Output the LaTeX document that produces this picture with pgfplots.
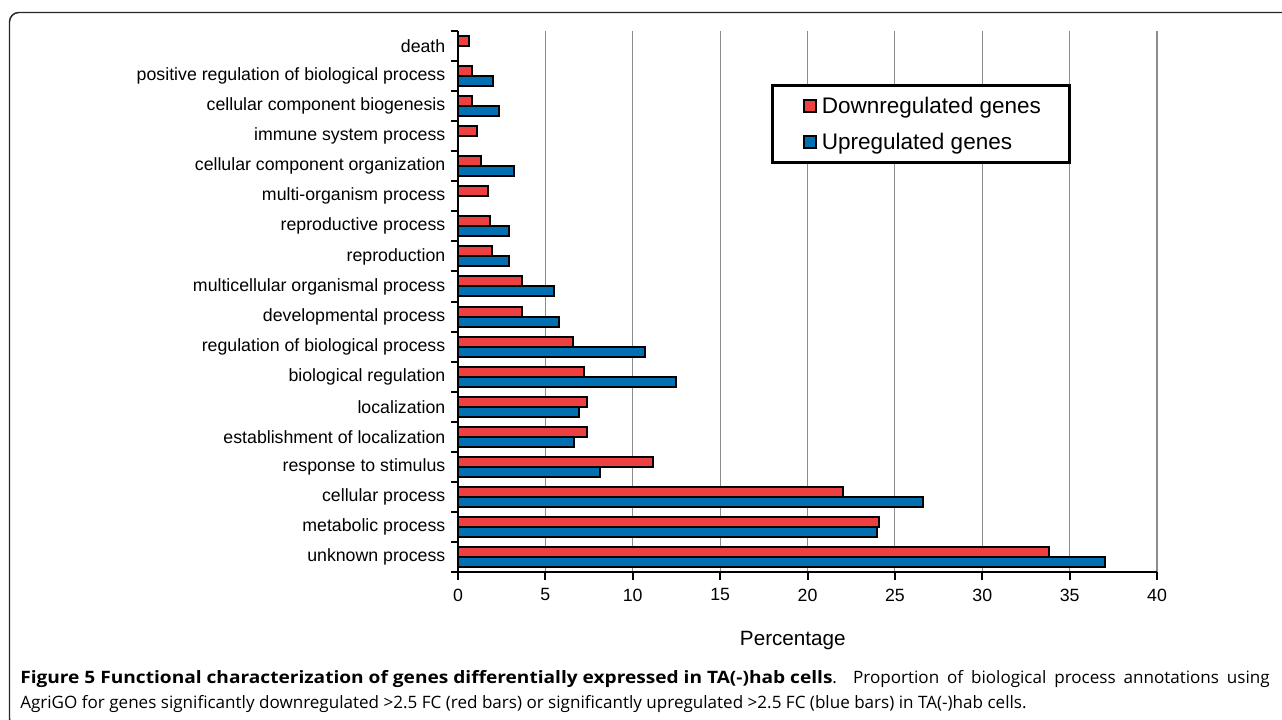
\documentclass[border=0pt]{standalone}
\usepackage{fontspec}
\setmainfont{Liberation Sans}
\newfontfamily\capfont[BoldFeatures={FakeStretch=1.12}]{Open Sans}
\usepackage{pgfplots}
\pgfplotsset{compat=1.18}
\definecolor{redbar}{HTML}{EE4040}
\definecolor{bluebar}{HTML}{0070B2}
\begin{document}
\begin{tikzpicture}
\useasboundingbox (0,0) rectangle (961.5pt,-540pt);
\draw[line width=1.1pt, black!85, rounded corners=7pt] (1300*0.75pt,-12.5*0.75pt) -- (9.5*0.75pt,-12.5*0.75pt) -- (9.5*0.75pt,-728*0.75pt) -- (40*0.75pt,-728*0.75pt);
\begin{axis}[
  at={(458*0.75pt,-572*0.75pt)}, anchor=south west,
  scale only axis, width=699*0.75pt, height=541*0.75pt,
  xmin=0, xmax=40, ymin=-0.5, ymax=17.5,
  axis x line*=bottom, axis y line*=left,
  axis line style={line width=1.5pt},
  xtick={0,5,...,40}, xmajorgrids,
  grid style={color=black!45, line width=0.8pt},
  tick align=outside,
  major tick length=6pt,
  major x tick style={line width=1.5pt, black},
  ytick={0,...,17},
  major y tick style={draw=none},
  minor ytick={-0.5,0.5,...,17.5},
  minor tick length=5pt,
  minor y tick style={line width=1.5pt, black},
  yticklabels={unknown process, metabolic process, cellular process, response to stimulus, establishment of localization, localization, biological regulation, regulation of biological process, developmental process, multicellular organismal process, reproduction, reproductive process, multi-organism process, cellular component organization, immune system process, cellular component biogenesis, positive regulation of biological process, death},
  ticklabel style={font=\fontsize{13.3pt}{15pt}\selectfont},
  xticklabel style={yshift=-3pt},
  /pgf/number format/assume math mode=true,
  xlabel={Percentage},
  xlabel style={at={(axis description cs:0.479,-0.126)}, anchor=center, font=\fontsize{15.5pt}{18pt}\selectfont},
  legend style={at={(0.448,0.902)}, anchor=north west, draw=black, line width=2pt,
    font=\fontsize{16.9pt}{20pt}\selectfont, inner xsep=18pt, inner ysep=6.6pt,
    row sep=9.25pt, column sep=0pt, nodes={inner xsep=3.2pt, inner ysep=2pt}},
  legend cell align=left,
  legend image code/.code={\path[draw=none,fill=none] (-6pt,0pt) -- (0pt,0pt); \draw[#1, line width=1.5pt] (0pt,-4.5pt) rectangle (9pt,4.5pt);},
]
\addplot[xbar, bar width=7.5pt, bar shift=3.75pt, fill=redbar, draw=black, line width=1.5pt] coordinates {
(33.8,0) (24.1,1) (22.02,2) (11.14,3) (7.36,4) (7.36,5) (7.21,6) (6.56,7) (3.68,8) (3.68,9) (1.96,10) (1.83,11) (1.74,12) (1.32,13) (1.07,14) (0.78,15) (0.78,16) (0.65,17)};
\addlegendentry{Downregulated genes}
\addplot[xbar, bar width=7.5pt, bar shift=-3.75pt, fill=bluebar, draw=black, line width=1.5pt] coordinates {
(37.04,0) (24.0,1) (26.61,2) (8.1,3) (6.66,4) (6.94,5) (12.46,6) (10.7,7) (5.76,8) (5.51,9) (2.92,10) (2.92,11) (3.2,13) (2.33,15) (2.02,16)};
\addlegendentry{Upregulated genes}
\end{axis}
\node[anchor=base west, inner sep=0pt, font=\capfont\bfseries\fontsize{12.8pt}{14pt}\selectfont] at (15pt,-512.25pt) {Figure 5 Functional characterization of genes differentially expressed in TA(-)hab cells};
\node[anchor=base east, inner sep=0pt, font=\capfont\fontsize{12.8pt}{14pt}\selectfont] at (952.5pt,-512.25pt) {\makebox[328pt][s]{. Proportion of biological process annotations using}};
\node[anchor=base west, inner sep=0pt, font=\capfont\fontsize{12.8pt}{14pt}\selectfont] at (15pt,-531pt) {AgriGO for genes significantly downregulated >2.5 FC (red bars) or significantly upregulated >2.5 FC (blue bars) in TA(-)hab cells.};
\end{tikzpicture}
\end{document}
